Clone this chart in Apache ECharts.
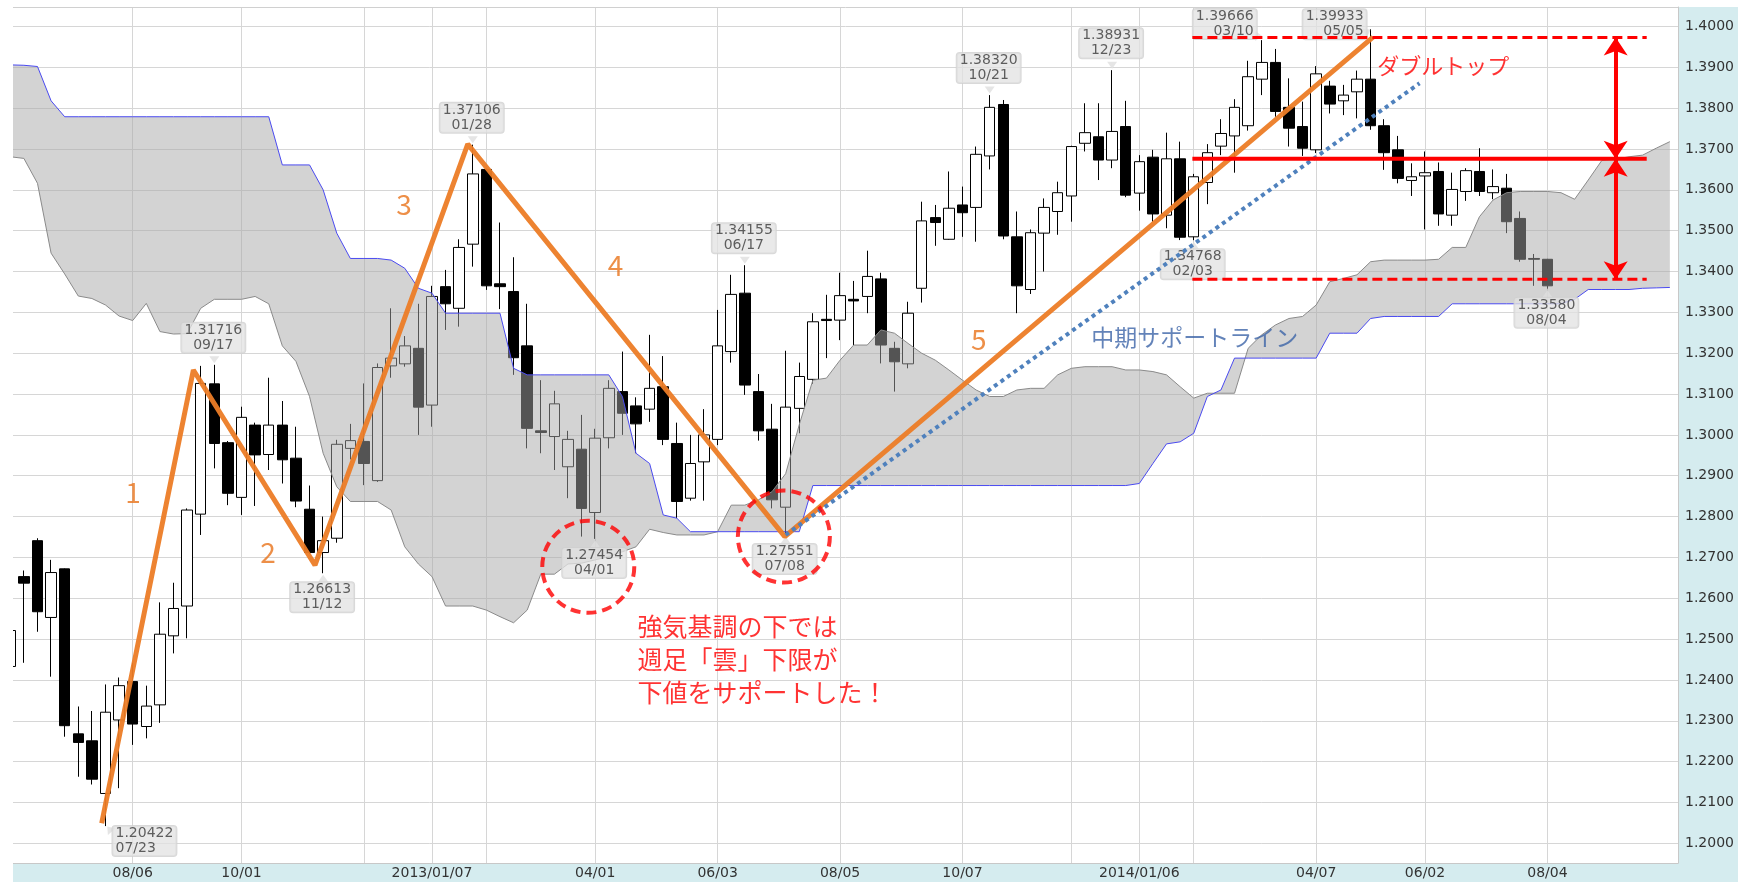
<!DOCTYPE html>
<html>
<head>
<meta charset="utf-8">
<style>
  html, body { margin: 0; padding: 0; background: #fff; }
  #chart { width: 1738px; height: 882px; }
</style>
<script src="https://cdn.jsdelivr.net/npm/echarts@6.0.0/dist/echarts.min.js"></script>
</head>
<body>
<div id="chart"></div>
<script>
// weekly candles, x = week number counted from 2012/06/04 (week 9 = 2012/08/06)
const open = [1.2433,1.2653,1.2741,1.2553,1.2672,1.2268,1.2251,1.2122,1.2302,1.2396,
  1.2286,1.2339,1.2508,1.2581,1.2806,1.3125,1.2981,1.2847,1.3024,1.2952,
  1.3024,1.2943,1.2818,1.2712,1.2747,1.2967,1.2984,1.2888,1.3169,1.3174,
  1.3212,1.3073,1.3363,1.3310,1.3467,1.3650,1.3370,1.3351,1.3218,1.3010,
  1.2996,1.2922,1.2965,1.2810,1.2993,1.3106,1.3071,1.3063,1.3118,1.2979,
  1.2845,1.2934,1.2989,1.3204,1.3347,1.3106,1.3014,1.2823,1.3065,1.3136,
  1.3283,1.3281,1.3332,1.3339,1.3382,1.3212,1.3174,1.3359,1.3532,1.3479,
  1.3563,1.3557,1.3683,1.3809,1.3485,1.3356,1.3494,1.3547,1.3585,1.3714,
  1.3730,1.3673,1.3755,1.3592,1.3680,1.3538,1.3676,1.3485,1.3618,1.3707,
  1.3732,1.3757,1.3871,1.3912,1.3802,1.3755,1.3698,1.3854,1.3818,1.3840,
  1.3871,1.3757,1.3698,1.3623,1.3634,1.3645,1.3538,1.3596,1.3645,1.3593,
  1.3604,1.3530,1.3432,1.3430];
const close = [1.2521,1.2637,1.2567,1.2663,1.2288,1.2247,1.2157,1.2321,1.2386,1.2292,
  1.2336,1.2512,1.2575,1.2816,1.3126,1.2979,1.2857,1.3043,1.2951,1.3024,
  1.2939,1.2838,1.2712,1.2741,1.2977,1.2986,1.2930,1.3165,1.3188,1.3218,
  1.3068,1.3339,1.3321,1.3459,1.3639,1.3365,1.3363,1.3189,1.3016,1.3006,
  1.3076,1.2989,1.2820,1.2992,1.3114,1.3053,1.3027,1.3114,1.2989,1.2837,
  1.2930,1.3000,1.3218,1.3344,1.3122,1.3010,1.2841,1.3068,1.3143,1.3277,
  1.3280,1.3341,1.3328,1.3388,1.3220,1.3179,1.3298,1.3524,1.3520,1.3555,
  1.3544,1.3687,1.3802,1.3487,1.3365,1.3495,1.3557,1.3593,1.3706,1.3740,
  1.3673,1.3743,1.3587,1.3669,1.3541,1.3676,1.3484,1.3632,1.3691,1.3738,
  1.3802,1.3877,1.3912,1.3792,1.3751,1.3702,1.3884,1.3810,1.3832,1.3871,
  1.3757,1.3691,1.3628,1.3632,1.3642,1.3541,1.3601,1.3647,1.3596,1.3608,
  1.3522,1.3430,1.3430,1.3365];
const low = [1.2425,1.2442,1.2518,1.2408,1.2261,1.2163,1.2144,1.20422,1.2135,1.2241,
  1.2257,1.2295,1.2465,1.2502,1.2755,1.2918,1.2828,1.2804,1.2826,1.2914,
  1.2881,1.2823,1.2708,1.26613,1.2736,1.2940,1.2877,1.2885,1.3140,1.3167,
  1.3000,1.3020,1.3257,1.3265,1.3412,1.3355,1.3308,1.3147,1.2967,1.2955,
  1.2914,1.2845,1.2751,1.27454,1.2967,1.3000,1.2955,1.3032,1.2975,1.2796,
  1.2839,1.2839,1.2975,1.3177,1.3098,1.2986,1.2820,1.27551,1.3004,1.3125,
  1.3188,1.3232,1.3220,1.3298,1.3175,1.3106,1.3163,1.3324,1.3463,1.3478,
  1.3485,1.3473,1.3650,1.3479,1.3298,1.3345,1.3400,1.3490,1.3522,1.3694,
  1.3624,1.3653,1.3582,1.3549,1.3522,1.3506,1.3477,1.34768,1.3565,1.3685,
  1.3642,1.3745,1.3832,1.3779,1.3706,1.3683,1.3690,1.3787,1.3783,1.3775,
  1.3747,1.3649,1.3616,1.3585,1.3503,1.3512,1.3512,1.3573,1.3585,1.3577,
  1.3494,1.3424,1.3365,1.3358];
const high = [1.2530,1.2668,1.2747,1.2694,1.2673,1.2335,1.2324,1.2389,1.2406,1.2442,
  1.2386,1.2590,1.2638,1.2820,1.3169,1.31716,1.2985,1.3069,1.3030,1.3140,
  1.3083,1.3020,1.2876,1.2800,1.2988,1.3027,1.3126,1.3175,1.3310,1.3242,
  1.3321,1.3365,1.3404,1.3479,1.37106,1.3652,1.3520,1.3435,1.3321,1.3134,
  1.3108,1.3010,1.3049,1.3015,1.3134,1.3204,1.3092,1.3245,1.3193,1.3030,
  1.3000,1.3063,1.3306,1.3392,1.34155,1.3149,1.3076,1.3206,1.3177,1.3298,
  1.3343,1.3397,1.3377,1.3451,1.3397,1.3228,1.3326,1.3571,1.3563,1.3645,
  1.3608,1.3706,1.38320,1.3820,1.3547,1.3503,1.3579,1.3620,1.3708,1.3812,
  1.3812,1.38931,1.3818,1.3685,1.3698,1.3740,1.3718,1.3639,1.3712,1.3773,
  1.3822,1.3916,1.39666,1.3945,1.3873,1.3816,1.3903,1.3867,1.3857,1.3892,
  1.39933,1.3773,1.3732,1.3665,1.3694,1.3667,1.3642,1.3653,1.3702,1.3650,
  1.3639,1.3547,1.3443,1.3431];

// cloud edges (grey line and blue line), one value per week incl. the 9 weeks ahead
const spanA = [1.3681,1.3677,1.3616,1.3445,1.3394,1.3340,1.3334,1.3318,1.3291,1.3280,
  1.3322,1.3253,1.3247,1.3248,1.3310,1.3332,1.3332,1.3332,1.3339,1.3321,
  1.3218,1.3180,1.3094,1.2955,1.2873,1.2837,1.2837,1.2837,1.2816,1.2726,
  1.2684,1.2653,1.2581,1.2581,1.2581,1.2571,1.2555,1.2540,1.2571,1.2659,
  1.2659,1.2684,1.2686,1.2694,1.2702,1.2714,1.2726,1.2769,1.2761,1.2755,
  1.2755,1.2755,1.2763,1.2828,1.2828,1.2841,1.2861,1.2905,1.3025,1.3134,
  1.3139,1.3183,1.3220,1.3220,1.3257,1.3249,1.3224,1.3200,1.3183,1.3159,
  1.3134,1.3110,1.3094,1.3094,1.3110,1.3114,1.3114,1.3147,1.3163,1.3167,
  1.3167,1.3167,1.3159,1.3159,1.3155,1.3147,1.3118,1.3090,1.3102,1.3102,
  1.3102,1.3212,1.3245,1.3269,1.3285,1.3290,1.3318,1.3375,1.3383,1.3392,
  1.3424,1.3428,1.3428,1.3428,1.3428,1.3430,1.3459,1.3459,1.3534,1.3575,
  1.3593,1.3596,1.3596,1.3596,1.3593,1.3577,1.3624,1.3672,1.3675,1.3681,
  1.3685,1.3702,1.3718];
const spanB = [1.3906,1.3905,1.3902,1.3818,1.3779,1.3779,1.3779,1.3779,1.3779,1.3779,
  1.3779,1.3779,1.3779,1.3779,1.3779,1.3779,1.3779,1.3779,1.3779,1.3779,
  1.3661,1.3661,1.3661,1.3600,1.3494,1.3432,1.3432,1.3432,1.3428,1.3408,
  1.3359,1.3347,1.3298,1.3298,1.3298,1.3298,1.3298,1.3163,1.3147,1.3147,
  1.3147,1.3147,1.3147,1.3147,1.3147,1.3094,1.2955,1.2930,1.2804,1.2796,
  1.2763,1.2763,1.2763,1.2763,1.2763,1.2763,1.2763,1.2763,1.2763,1.2876,
  1.2876,1.2876,1.2876,1.2876,1.2876,1.2876,1.2876,1.2876,1.2876,1.2876,
  1.2876,1.2876,1.2876,1.2876,1.2876,1.2876,1.2876,1.2876,1.2876,1.2876,
  1.2876,1.2876,1.2876,1.2881,1.2930,1.2978,1.2983,1.3004,1.3094,1.3110,
  1.3188,1.3188,1.3188,1.3188,1.3188,1.3188,1.3188,1.3249,1.3249,1.3249,
  1.3285,1.3290,1.3290,1.3290,1.3290,1.3290,1.3321,1.3321,1.3321,1.3321,
  1.3321,1.3321,1.3321,1.3321,1.3321,1.3332,1.3356,1.3356,1.3356,1.3356,
  1.3359,1.3360,1.3361];

// axis ticks
const gridWeeks = [9, 17, 26, 31, 35, 43, 52, 61, 70, 78, 83, 87, 96, 104, 113];
const labelWeeks = [9, 17, 31, 43, 52, 61, 70, 83, 96, 104, 113];
const weekLabels = ['08/06', '10/01', '2013/01/07', '04/01', '06/03', '08/05', '10/07', '2014/01/06', '04/07', '06/02', '08/04'];
const priceTicks = [1.20, 1.21, 1.22, 1.23, 1.24, 1.25, 1.26, 1.27, 1.28, 1.29, 1.30,
  1.31, 1.32, 1.33, 1.34, 1.35, 1.36, 1.37, 1.38, 1.39, 1.40];

// marked highs / lows
const peakWeeks = [7, 15, 23, 34, 43, 54, 57, 72, 81, 87, 92, 100, 113];
const peakPrices = [1.20422, 1.31716, 1.26613, 1.37106, 1.27454, 1.34155, 1.27551, 1.38320, 1.38931, 1.34768, 1.39666, 1.39933, 1.33580];
const peakDates = ['07/23', '09/17', '11/12', '01/28', '04/01', '06/17', '07/08', '10/21', '12/23', '02/03', '03/10', '05/05', '08/04'];

// hand drawn annotations: [week, price]
const wavePoints = [[6.72, 1.2049], [13.46, 1.3159], [22.4, 1.2681], [33.63, 1.3712], [56.94, 1.2751], [100.18, 1.3974]];
const waveNames = ['1', '2', '3', '4', '5'];
const waveNameAt = [[9.03, 1.2860], [18.95, 1.2713], [28.94, 1.3565], [44.5, 1.3416], [71.2, 1.3234]];
const supportLine = [[57, 1.2755], [103.6, 1.3861]];
const supportCircles = [[42.49, 1.2677], [56.87, 1.2751]];
const doubleTop = 1.3973, neckline = 1.3676, target = 1.3381;
const levelFrom = 86.9, levelTo = 120.3, arrowWeek = 118.02;
const notes = ['強気基調の下では\n週足「雲」下限が\n下値をサポートした！', 'ダブルトップ', '中期サポートライン'];
const noteAt = [[46.14, 1.24488], [100.53, 1.39033], [79.51, 1.32373]];

// --- styling / layout only below ---
const NUM_FONT = '"DejaVu Sans", Verdana, sans-serif';
const JP_FONT = '"Noto Sans CJK JP", sans-serif';
const BAND = '#d5ecef';

const place = {
  high:     { label: { position: [0, -11], align: 'center', verticalAlign: 'bottom' }, rot: 180, off: [0, -5] },
  low:      { label: { position: [0, 10], align: 'center', verticalAlign: 'top' }, rot: 0, off: [0, 5] },
  lowRight: { label: { position: [8, 1], align: 'left', verticalAlign: 'top' }, rot: 40, off: [4, 3] },
  leftLow:  { label: { position: [-4, 0], align: 'right', verticalAlign: 'bottom' }, rot: -90, off: [-3, -4] },
  leftMid:  { label: { position: [-3, 11], align: 'right', verticalAlign: 'bottom' }, rot: -60, off: [-3, 2] }
};
const peakPlace = ['lowRight', 'high', 'low', 'high', 'low', 'high', 'low', 'high', 'high', 'low', 'leftLow', 'leftMid', 'low'];

const candles = open.map((o, i) => [i, o, close[i], low[i], high[i]]);
const labelOf = {};
labelWeeks.forEach((w, i) => { labelOf[w] = weekLabels[i]; });

const chart = echarts.init(document.getElementById('chart'));
chart.setOption({
  animation: false,
  backgroundColor: '#fff',
  graphic: [
    { type: 'rect', z: -100, silent: true, shape: { x: 1678, y: 7, width: 60, height: 875 }, style: { fill: BAND } },
    { type: 'rect', z: -100, silent: true, shape: { x: 13, y: 863, width: 1725, height: 19 }, style: { fill: BAND } },
    // the first candle is cut by the left edge of the plot
    { type: 'rect', z: 100, silent: true, shape: { x: 0, y: 0, width: 13, height: 882 }, style: { fill: '#fff' } }
  ],
  grid: { left: 13, right: 60, top: 7, bottom: 19 },
  xAxis: [{
    type: 'value', min: 0.2, max: 122.6,
    axisLine: { show: true, lineStyle: { color: '#c8c8c8' } },
    axisTick: { show: false, customValues: gridWeeks },
    axisLabel: {
      customValues: labelWeeks, formatter: v => labelOf[v] || '',
      color: '#333', fontSize: 14, fontFamily: NUM_FONT, margin: 3
    },
    splitLine: { show: true, lineStyle: { color: '#d6d6d6', width: 1 } }
  }, {
    type: 'value', min: 0.2, max: 122.6, position: 'top',
    axisLine: { show: true, lineStyle: { color: '#d0d0d0' } },
    axisTick: { show: false }, axisLabel: { show: false }, splitLine: { show: false }
  }],
  yAxis: {
    type: 'value', position: 'right', min: 1.19518, max: 1.40477, scale: true,
    axisLine: { show: true, lineStyle: { color: '#c8c8c8' } },
    axisTick: { show: false, customValues: priceTicks },
    axisLabel: {
      customValues: priceTicks, formatter: v => v.toFixed(4),
      color: '#333', fontSize: 14, fontFamily: NUM_FONT, margin: 7
    },
    splitLine: { show: true, lineStyle: { color: '#d6d6d6', width: 1 } }
  },
  series: [
    {
      name: 'candles', type: 'candlestick', z: 2, silent: true,
      data: candles, encode: { x: 0, y: [1, 2, 3, 4] },
      barWidth: 11,
      itemStyle: { color: '#fff', color0: '#000', borderColor: '#000', borderColor0: '#000', borderWidth: 1 }
    },
    {
      name: 'cloud', type: 'custom', z: 3, silent: true, clip: true,
      data: [[60, 1.3]],
      renderItem: (params, api) => {
        const a = spanA.map((v, i) => api.coord([i, v]));
        const b = spanB.map((v, i) => api.coord([i, v])).reverse();
        return { type: 'polygon', shape: { points: a.concat(b) }, style: { fill: 'rgba(168,168,168,0.5)' } };
      }
    },
    {
      name: 'spanA', type: 'line', z: 4, silent: true, symbol: 'none',
      data: spanA.map((v, i) => [i, v]),
      lineStyle: { color: '#8a8a8a', width: 1 }
    },
    {
      name: 'spanB', type: 'line', z: 4, silent: true, symbol: 'none',
      data: spanB.map((v, i) => [i, v]),
      lineStyle: { color: '#4a4af0', width: 1 }
    },
    {
      name: 'tails', type: 'scatter', z: 5, silent: true, symbol: 'triangle', symbolSize: [10, 7],
      itemStyle: { color: '#dedede' },
      data: peakWeeks.map((w, i) => ({
        value: [w, peakPrices[i]],
        symbolRotate: place[peakPlace[i]].rot,
        symbolOffset: place[peakPlace[i]].off
      }))
    },
    {
      name: 'callouts', type: 'scatter', z: 5, silent: true, symbolSize: 2,
      itemStyle: { color: 'rgba(0,0,0,0)' },
      data: peakWeeks.map((w, i) => ({
        value: [w, peakPrices[i]],
        label: Object.assign({
          show: true,
          formatter: peakPrices[i].toFixed(5) + '\n' + peakDates[i],
          color: '#3a3a3a', fontSize: 14, lineHeight: 15, fontFamily: NUM_FONT,
          backgroundColor: 'rgba(226,226,226,0.95)', borderColor: '#cfcfcf', borderWidth: 1,
          borderRadius: 3, padding: [0, 3, 0, 3]
        }, place[peakPlace[i]].label)
      }))
    },
    {
      name: 'waves', type: 'line', z: 6, silent: true, symbol: 'none',
      data: wavePoints,
      lineStyle: { color: '#EC7C26', width: 5, opacity: 0.95 }
    },
    {
      name: 'support', type: 'line', z: 6, silent: true, symbol: 'none',
      data: supportLine,
      lineStyle: { color: '#4F81BD', width: 4, type: [4, 4] }
    },
    {
      name: 'topLine', type: 'line', z: 7, silent: true, symbol: 'none',
      data: [[levelFrom, doubleTop], [levelTo, doubleTop]],
      lineStyle: { color: '#ff0000', width: 3, type: [10, 5] }
    },
    {
      name: 'targetLine', type: 'line', z: 7, silent: true, symbol: 'none',
      data: [[levelFrom, target], [levelTo, target]],
      lineStyle: { color: '#ff0000', width: 3, type: [10, 5] }
    },
    {
      name: 'neckline', type: 'line', z: 7, silent: true, symbol: 'none',
      data: [[levelFrom, neckline], [levelTo, neckline]],
      lineStyle: { color: '#ff0000', width: 4 },
      markLine: {
        silent: true, animation: false,
        symbol: ['arrow', 'arrow'], symbolSize: 18,
        lineStyle: { color: '#ff0000', width: 4, type: 'solid' },
        label: { show: false },
        data: [
          [{ coord: [arrowWeek, doubleTop] }, { coord: [arrowWeek, neckline] }],
          [{ coord: [arrowWeek, neckline] }, { coord: [arrowWeek, target] }]
        ]
      }
    },
    {
      name: 'circles', type: 'scatter', z: 7, silent: true, symbol: 'circle', symbolSize: 92,
      itemStyle: { color: 'rgba(0,0,0,0)', borderColor: '#ff0000', borderWidth: 4, borderType: [10, 6] },
      data: supportCircles
    },
    {
      name: 'waveNames', type: 'scatter', z: 8, silent: true, symbolSize: 1,
      itemStyle: { color: 'rgba(0,0,0,0)' },
      data: waveNameAt.map((p, i) => ({ value: p, name: waveNames[i] })),
      label: {
        show: true, position: 'inside', formatter: p => p.name,
        color: '#E8731A', fontSize: 28, fontFamily: JP_FONT
      }
    },
    {
      name: 'notes', type: 'scatter', z: 8, silent: true, symbolSize: 1,
      itemStyle: { color: 'rgba(0,0,0,0)' },
      data: [
        { value: noteAt[0], label: { formatter: notes[0], color: '#ff0000', fontSize: 25, lineHeight: 33 } },
        { value: noteAt[1], label: { formatter: notes[1], color: '#ff0000', fontSize: 22 } },
        { value: noteAt[2], label: { formatter: notes[2], color: '#3C64A8', fontSize: 23 } }
      ],
      label: { show: true, position: [0, 0], align: 'left', verticalAlign: 'middle', fontFamily: JP_FONT }
    }
  ]
});
</script>
</body>
</html>
